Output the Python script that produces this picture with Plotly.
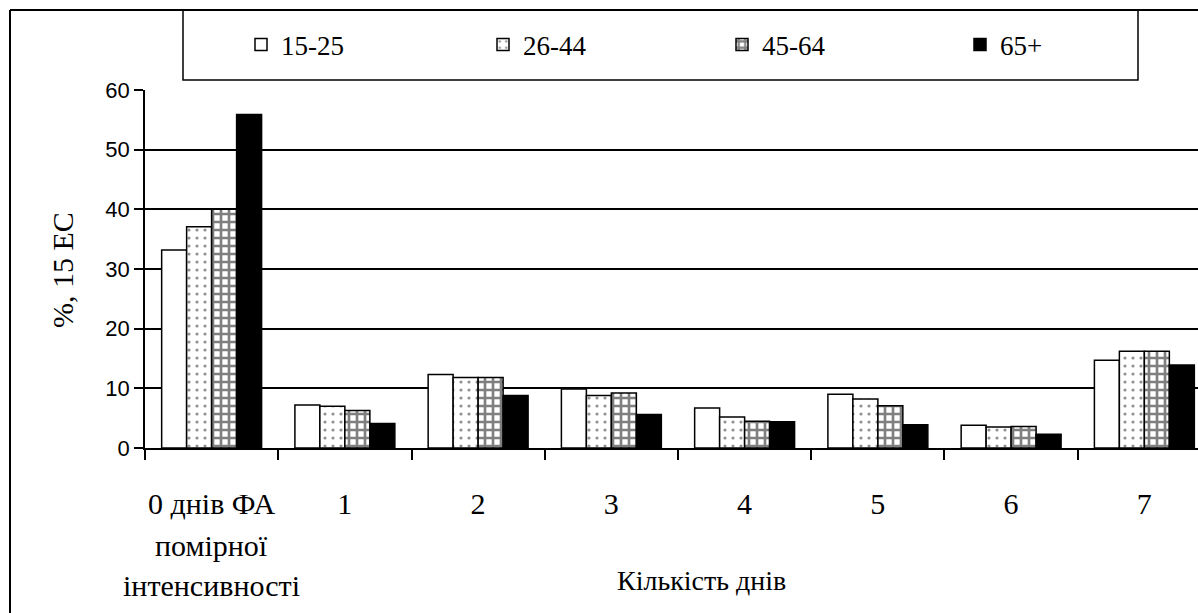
import plotly.graph_objects as go

# Share of people (%, EU-15) by number of days of moderate physical activity
categories = ["0", "1", "2", "3", "4", "5", "6", "7"]
tick_labels = ["0 днів ФА", "1", "2", "3", "4", "5", "6", "7"]
first_label_extra = ["помірної", "інтенсивності"]

age_groups = ["15-25", "26-44", "45-64", "65+"]
v_15_25 = [33.2, 7.2, 12.3, 9.9, 6.7, 9.0, 3.8, 14.7]
v_26_44 = [37.1, 7.0, 11.8, 8.8, 5.2, 8.2, 3.5, 16.2]
v_45_64 = [40.0, 6.3, 11.8, 9.2, 4.5, 7.1, 3.6, 16.2]
v_65_plus = [55.9, 4.1, 8.8, 5.6, 4.4, 3.9, 2.3, 13.9]

y_ticks = [0, 10, 20, 30, 40, 50, 60]

SERIF = "Liberation Serif"
SANS = "Liberation Sans"

W, H = 1198, 613
M_L, M_R, M_T, M_B = 145, 0, 90, 165
PW, PH = W - M_L - M_R, H - M_T - M_B


def px_to_paper_x(px):
    return (px - M_L) / PW


def px_to_paper_y(py):
    return (H - M_B - py) / PH


styles = [
    dict(color="white", pattern=None),
    dict(color="white", pattern=dict(shape=".", fgcolor="#222", bgcolor="white",
                                     size=8, solidity=0.12, fillmode="overlay")),
    dict(color="white", pattern=dict(shape="+", fgcolor="black", bgcolor="white",
                                     size=8, solidity=0.55, fillmode="overlay")),
    dict(color="black", pattern=None),
]
legend_ids = ["legend", "legend2", "legend3", "legend4"]
legend_left_px = [241, 483, 722, 960]

fig = go.Figure()
for name, vals, st, lid in zip(age_groups, [v_15_25, v_26_44, v_45_64, v_65_plus], styles, legend_ids):
    marker = dict(color=st["color"], line=dict(color="black", width=1.5))
    if st["pattern"] is not None:
        marker["pattern"] = st["pattern"]
    fig.add_trace(go.Bar(x=categories, y=vals, name=name, marker=marker, legend=lid))

annotations = []
for i, txt in enumerate(first_label_extra):
    annotations.append(dict(
        x=0, xref="x", y=px_to_paper_y(545 + 40 * i), yref="paper",
        text=txt, showarrow=False, xanchor="center", yanchor="middle",
        font=dict(family=SERIF, size=30, color="black"),
    ))
annotations.append(dict(
    x=px_to_paper_x(701), xref="paper", y=px_to_paper_y(580), yref="paper",
    text="Кількість днів", showarrow=False, xanchor="center", yanchor="middle",
    font=dict(family=SERIF, size=28, color="black"),
))
annotations.append(dict(
    x=px_to_paper_x(62), xref="paper", y=px_to_paper_y(270), yref="paper",
    text="%, 15 ЕС", textangle=-90, showarrow=False, xanchor="center", yanchor="middle",
    font=dict(family=SERIF, size=30, color="black"),
))

shapes = [
    # outer frame (top and left edges)
    dict(type="line", xref="paper", yref="paper",
         x0=px_to_paper_x(10), x1=px_to_paper_x(10),
         y0=px_to_paper_y(620), y1=px_to_paper_y(10),
         line=dict(color="black", width=2)),
    dict(type="line", xref="paper", yref="paper",
         x0=px_to_paper_x(10), x1=px_to_paper_x(1205),
         y0=px_to_paper_y(10), y1=px_to_paper_y(10),
         line=dict(color="black", width=2)),
    # legend box
    dict(type="rect", xref="paper", yref="paper",
         x0=px_to_paper_x(183), x1=px_to_paper_x(1138),
         y0=px_to_paper_y(80), y1=px_to_paper_y(10),
         line=dict(color="black", width=1.5), fillcolor="rgba(0,0,0,0)"),
]

legend_layout = {}
for lid, lx in zip(legend_ids, legend_left_px):
    legend_layout[lid] = dict(
        orientation="h", xanchor="left", yanchor="middle",
        x=px_to_paper_x(lx), y=px_to_paper_y(45),
        bgcolor="rgba(0,0,0,0)", borderwidth=0,
        font=dict(family=SERIF, size=27, color="black"),
    )

fig.update_layout(
    width=W, height=H,
    margin=dict(l=M_L, r=M_R, t=M_T, b=M_B),
    paper_bgcolor="white", plot_bgcolor="white",
    font=dict(family=SERIF, color="black"),
    barmode="group", bargap=0.25, bargroupgap=0,
    showlegend=True,
    annotations=annotations,
    shapes=shapes,
    xaxis=dict(
        type="category", range=[-0.5, 7.4025],
        tickmode="array", tickvals=categories, ticktext=tick_labels, tickangle=0,
        tickson="boundaries", ticks="outside", ticklen=10, tickcolor="black", tickwidth=1.5,
        ticklabelstandoff=28,
        showline=True, linecolor="black", linewidth=1.5,
        showgrid=False, zeroline=False,
        tickfont=dict(family=SERIF, size=30, color="black"),
    ),
    yaxis=dict(
        range=[0, 60], tickmode="array", tickvals=y_ticks,
        ticks="outside", ticklen=9, tickcolor="black", tickwidth=1.5,
        showline=True, linecolor="black", linewidth=1.5,
        showgrid=True, gridcolor="black", gridwidth=1.5,
        zeroline=False,
        tickfont=dict(family=SANS, size=22, color="black"),
    ),
    **legend_layout,
)

fig.write_html("out.html")
